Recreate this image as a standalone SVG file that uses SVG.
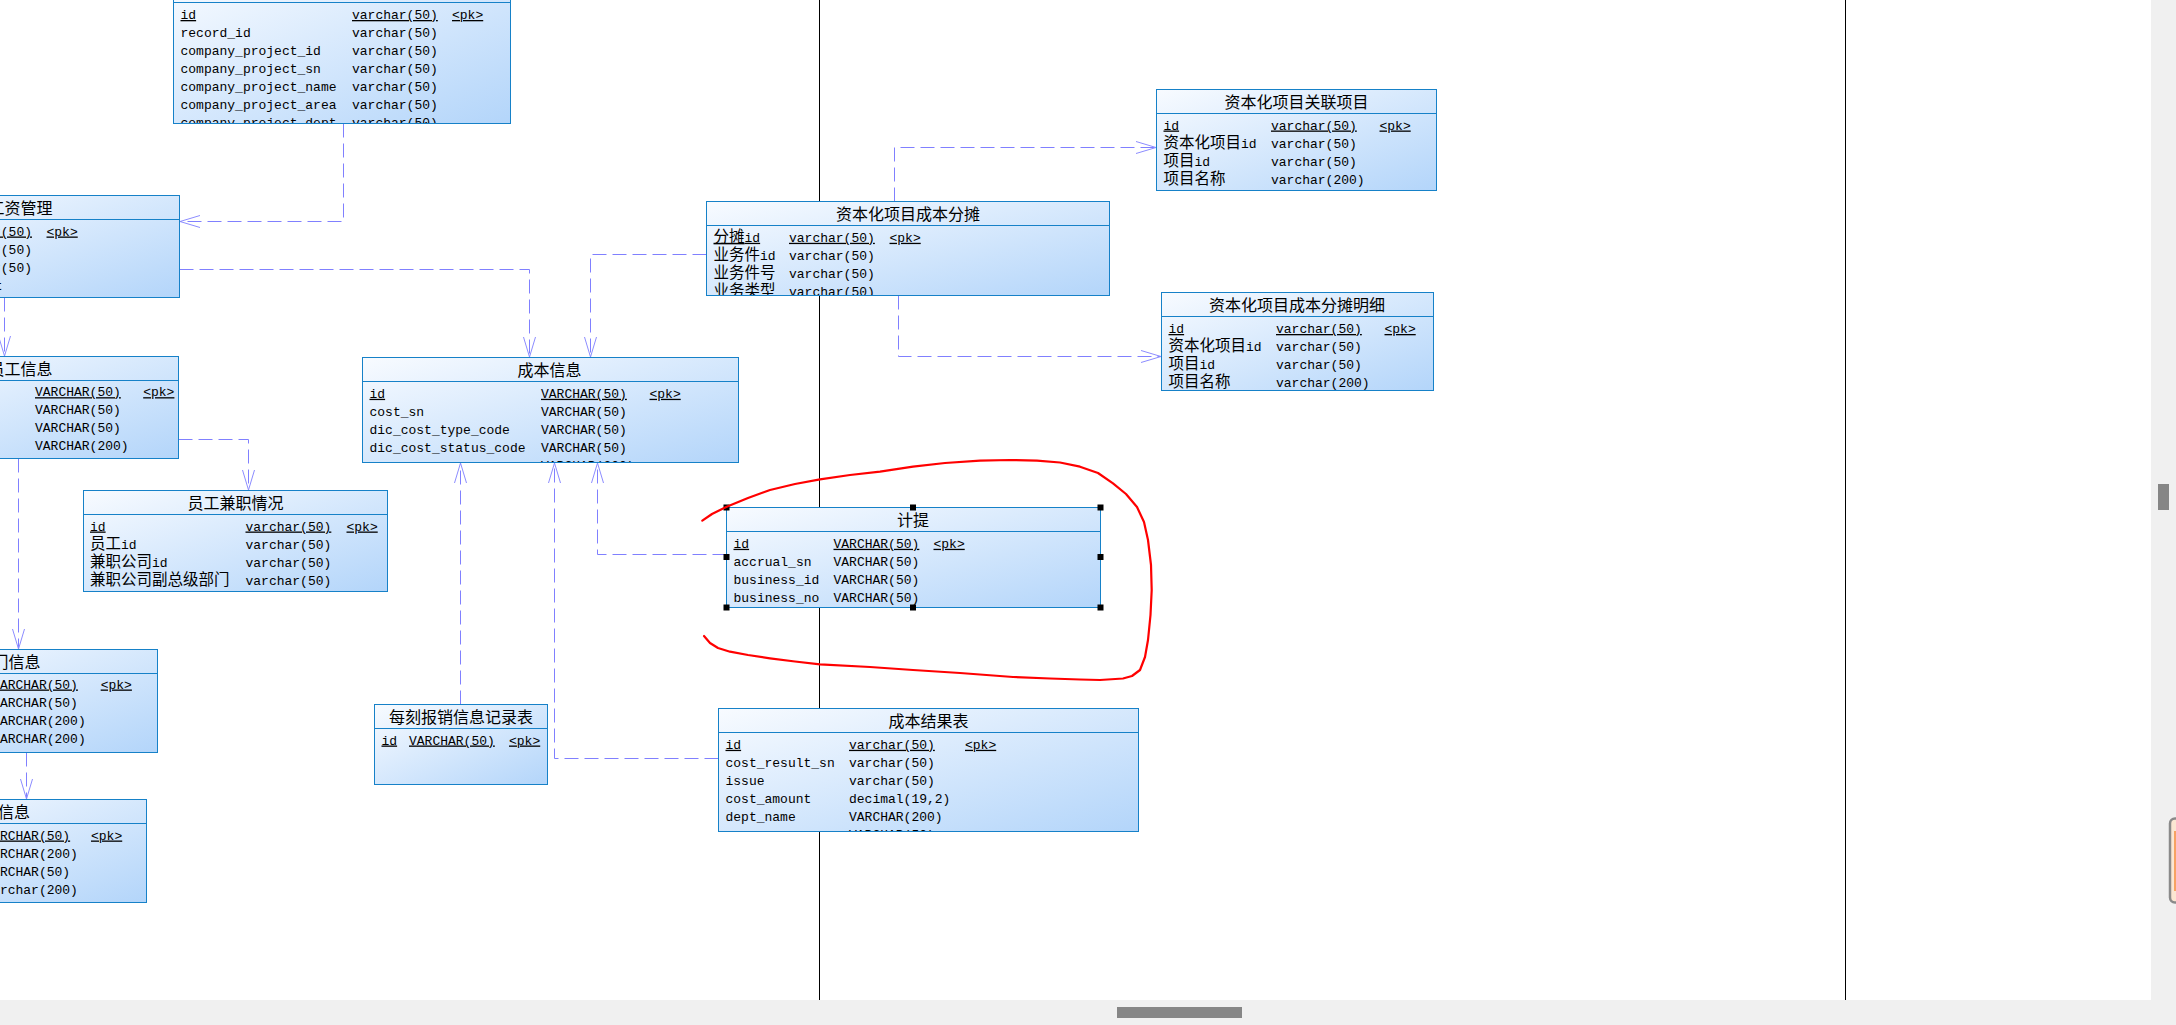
<svg xmlns="http://www.w3.org/2000/svg" width="2176" height="1025" viewBox="0 0 2176 1025">
<style>
.box{fill:url(#gf)}
.bd{fill:none;stroke:#1681c8;stroke-width:1}
.hd{stroke:#1681c8;stroke-width:1}
.tt{font-family:"Noto Sans CJK SC","Noto Sans",sans-serif;font-size:16px;text-anchor:middle;fill:#000}
.r{font-family:"Liberation Mono","Noto Sans CJK SC",monospace;font-size:13px;fill:#000}
.cj{font-family:"Noto Sans CJK SC",sans-serif;font-size:15.5px}
.u{text-decoration:underline}
.te{text-anchor:end}
.conn path{fill:none;stroke:#8080ff;stroke-width:1;stroke-dasharray:14 6;marker-end:url(#arr)}
.pl{stroke:#000;stroke-width:1}
.hdl{fill:#000}
</style>
<defs>
<linearGradient id="gf" x1="0" y1="0" x2="1" y2="1">
<stop offset="0" stop-color="#f8fbff"/>
<stop offset="1" stop-color="#b3d5fa"/>
</linearGradient>
<marker id="arr" viewBox="0 0 22 14" refX="21" refY="7" markerWidth="22" markerHeight="14" markerUnits="userSpaceOnUse" orient="auto">
<path d="M1,1 L21,7 L1,13" fill="none" stroke="#8c8cff" stroke-width="1"/>
</marker>
</defs>
<rect x="0" y="0" width="2176" height="1025" fill="#ffffff"/>
<g id="page-lines">
<line class="pl" x1="819.5" y1="0" x2="819.5" y2="1000"/>
<line class="pl" x1="1845.5" y1="0" x2="1845.5" y2="1000"/>
</g>
<g id="connectors" class="conn">
<path d="M343.5,123.5 V221.5 H180"/>
<path d="M179.5,269.5 H529.5 V357"/>
<path d="M4.5,297.5 V356"/>
<path d="M178.5,439.5 H248.5 V490"/>
<path d="M18.5,458.5 V649"/>
<path d="M26.5,752.5 V799"/>
<path d="M706.5,254.5 H590.5 V357"/>
<path d="M894.5,201.5 V147.5 H1156"/>
<path d="M898.5,295.5 V356.5 H1161"/>
<path d="M460.5,704.5 V463"/>
<path d="M718.5,758.5 H554.5 V463"/>
<path d="M726.5,554.5 H597.5 V463"/>
</g>

<g id="t-project" transform="translate(173.5,-21.5)">
<rect class="box" width="337" height="145"/>
<line class="hd" x1="0" y1="24" x2="337" y2="24"/>
<svg width="337" height="145">
<text class="r u" x="7" y="40.5">id</text><text class="r u" x="178.5" y="40.5">varchar(50)</text><text class="r u" x="278.5" y="40.5">&lt;pk&gt;</text>
<text class="r" x="7" y="58.5">record_id</text><text class="r" x="178.5" y="58.5">varchar(50)</text>
<text class="r" x="7" y="76.5">company_project_id</text><text class="r" x="178.5" y="76.5">varchar(50)</text>
<text class="r" x="7" y="94.5">company_project_sn</text><text class="r" x="178.5" y="94.5">varchar(50)</text>
<text class="r" x="7" y="112.5">company_project_name</text><text class="r" x="178.5" y="112.5">varchar(50)</text>
<text class="r" x="7" y="130.5">company_project_area</text><text class="r" x="178.5" y="130.5">varchar(50)</text>
<text class="r" x="7" y="148.5">company_project_dept</text><text class="r" x="178.5" y="148.5">varchar(50)</text>
</svg>
<rect class="bd" width="337" height="145"/>
</g>

<g id="t-salary" transform="translate(-121.5,195.5)">
<rect class="box" width="301" height="102"/>
<line class="hd" x1="0" y1="24" x2="301" y2="24"/>
<text class="tt te" x="174" y="18">工资管理</text>
<svg width="301" height="102">
<text class="r u te" x="153.5" y="40">varchar(50)</text><text class="r u" x="168" y="40">&lt;pk&gt;</text>
<text class="r te" x="153.5" y="58">varchar(50)</text>
<text class="r te" x="153.5" y="76">varchar(50)</text>
<text class="r te" x="124" y="94">int</text>
<text class="r te" x="153.5" y="112">varchar(50)</text>
</svg>
<rect class="bd" width="301" height="102"/>
</g>

<g id="t-employee" transform="translate(-121.5,356.5)">
<rect class="box" width="300" height="102"/>
<line class="hd" x1="0" y1="24" x2="300" y2="24"/>
<text class="tt te" x="174" y="18">员工信息</text>
<svg width="300" height="102">
<text class="r u" x="156.5" y="39.7">VARCHAR(50)</text><text class="r u" x="264.7" y="39.7">&lt;pk&gt;</text>
<text class="r" x="156.5" y="57.7">VARCHAR(50)</text>
<text class="r" x="156.5" y="75.7">VARCHAR(50)</text>
<text class="r" x="156.5" y="93.7">VARCHAR(200)</text>
<text class="r" x="156.5" y="111.7">VARCHAR(50)</text>
</svg>
<rect class="bd" width="300" height="102"/>
</g>

<g id="t-parttime" transform="translate(83.5,490.5)">
<rect class="box" width="304" height="101"/>
<line class="hd" x1="0" y1="24" x2="304" y2="24"/>
<text class="tt" x="152" y="18">员工兼职情况</text>
<svg width="304" height="101">
<text class="r u" x="6.5" y="40">id</text><text class="r u" x="162" y="40">varchar(50)</text><text class="r u" x="263" y="40">&lt;pk&gt;</text>
<text class="r" x="6.5" y="58"><tspan class="cj">员工</tspan>id</text><text class="r" x="162" y="58">varchar(50)</text>
<text class="r" x="6.5" y="76"><tspan class="cj">兼职公司</tspan>id</text><text class="r" x="162" y="76">varchar(50)</text>
<text class="r" x="6.5" y="94"><tspan class="cj">兼职公司副总级部门</tspan></text><text class="r" x="162" y="94">varchar(50)</text>
</svg>
<rect class="bd" width="304" height="101"/>
</g>

<g id="t-dept" transform="translate(-121.5,649.5)">
<rect class="box" width="279" height="103"/>
<line class="hd" x1="0" y1="24" x2="279" y2="24"/>
<text class="tt te" x="162" y="18">门信息</text>
<svg width="279" height="103">
<text class="r u" x="113.6" y="39">VARCHAR(50)</text><text class="r u" x="222.2" y="39">&lt;pk&gt;</text>
<text class="r" x="113.6" y="57">VARCHAR(50)</text>
<text class="r" x="113.6" y="75">VARCHAR(200)</text>
<text class="r" x="113.6" y="93">VARCHAR(200)</text>
<text class="r" x="113.6" y="111">VARCHAR(200)</text>
</svg>
<rect class="bd" width="279" height="103"/>
</g>

<g id="t-info" transform="translate(-121.5,799.5)">
<rect class="box" width="268" height="103"/>
<line class="hd" x1="0" y1="24" x2="268" y2="24"/>
<text class="tt te" x="151.4" y="18">信息</text>
<svg width="268" height="103">
<text class="r u" x="105.8" y="40">VARCHAR(50)</text><text class="r u" x="212.5" y="40">&lt;pk&gt;</text>
<text class="r" x="105.8" y="58">VARCHAR(200)</text>
<text class="r" x="105.8" y="76">VARCHAR(50)</text>
<text class="r" x="105.8" y="94">varchar(200)</text>
<text class="r" x="105.8" y="112">VARCHAR(50)</text>
</svg>
<rect class="bd" width="268" height="103"/>
</g>

<g id="t-cost" transform="translate(362.5,357.5)">
<rect class="box" width="376" height="105"/>
<line class="hd" x1="0" y1="24" x2="376" y2="24"/>
<text class="tt" x="187" y="18">成本信息</text>
<svg width="376" height="105">
<text class="r u" x="7" y="40.3">id</text><text class="r u" x="178.5" y="40.3">VARCHAR(50)</text><text class="r u" x="287" y="40.3">&lt;pk&gt;</text>
<text class="r" x="7" y="58.3">cost_sn</text><text class="r" x="178.5" y="58.3">VARCHAR(50)</text>
<text class="r" x="7" y="76.3">dic_cost_type_code</text><text class="r" x="178.5" y="76.3">VARCHAR(50)</text>
<text class="r" x="7" y="94.3">dic_cost_status_code</text><text class="r" x="178.5" y="94.3">VARCHAR(50)</text>
<text class="r" x="178.5" y="112.3">VARCHAR(200)</text>
</svg>
<rect class="bd" width="376" height="105"/>
</g>

<g id="t-alloc" transform="translate(706.5,201.5)">
<rect class="box" width="403" height="94"/>
<line class="hd" x1="0" y1="24" x2="403" y2="24"/>
<text class="tt" x="201.5" y="18">资本化项目成本分摊</text>
<svg width="403" height="94">
<text class="r u" x="7" y="40.3"><tspan class="cj">分摊</tspan>id</text><text class="r u" x="82.5" y="40.3">varchar(50)</text><text class="r u" x="183" y="40.3">&lt;pk&gt;</text>
<text class="r" x="7" y="58.3"><tspan class="cj">业务件</tspan>id</text><text class="r" x="82.5" y="58.3">varchar(50)</text>
<text class="r" x="7" y="76.3"><tspan class="cj">业务件号</tspan></text><text class="r" x="82.5" y="76.3">varchar(50)</text>
<text class="r" x="7" y="94.3"><tspan class="cj">业务类型</tspan></text><text class="r" x="82.5" y="94.3">varchar(50)</text>
</svg>
<rect class="bd" width="403" height="94"/>
</g>

<g id="t-link" transform="translate(1156.5,89.5)">
<rect class="box" width="280" height="101"/>
<line class="hd" x1="0" y1="24" x2="280" y2="24"/>
<text class="tt" x="140" y="18">资本化项目关联项目</text>
<svg width="280" height="101">
<text class="r u" x="7" y="40">id</text><text class="r u" x="114.5" y="40">varchar(50)</text><text class="r u" x="223" y="40">&lt;pk&gt;</text>
<text class="r" x="7" y="58"><tspan class="cj">资本化项目</tspan>id</text><text class="r" x="114.5" y="58">varchar(50)</text>
<text class="r" x="7" y="76"><tspan class="cj">项目</tspan>id</text><text class="r" x="114.5" y="76">varchar(50)</text>
<text class="r" x="7" y="94"><tspan class="cj">项目名称</tspan></text><text class="r" x="114.5" y="94">varchar(200)</text>
</svg>
<rect class="bd" width="280" height="101"/>
</g>

<g id="t-alloc-detail" transform="translate(1161.5,292.5)">
<rect class="box" width="272" height="98"/>
<line class="hd" x1="0" y1="24" x2="272" y2="24"/>
<text class="tt" x="135.5" y="18">资本化项目成本分摊明细</text>
<svg width="272" height="98">
<text class="r u" x="7" y="40.5">id</text><text class="r u" x="114.5" y="40.5">varchar(50)</text><text class="r u" x="223" y="40.5">&lt;pk&gt;</text>
<text class="r" x="7" y="58.5"><tspan class="cj">资本化项目</tspan>id</text><text class="r" x="114.5" y="58.5">varchar(50)</text>
<text class="r" x="7" y="76.5"><tspan class="cj">项目</tspan>id</text><text class="r" x="114.5" y="76.5">varchar(50)</text>
<text class="r" x="7" y="94.5"><tspan class="cj">项目名称</tspan></text><text class="r" x="114.5" y="94.5">varchar(200)</text>
</svg>
<rect class="bd" width="272" height="98"/>
</g>

<g id="t-accrual" transform="translate(726.5,507.5)">
<rect class="box" width="374" height="100"/>
<line class="hd" x1="0" y1="24" x2="374" y2="24"/>
<text class="tt" x="186.5" y="18">计提</text>
<svg width="374" height="100">
<text class="r u" x="7" y="40.3">id</text><text class="r u" x="107" y="40.3">VARCHAR(50)</text><text class="r u" x="207" y="40.3">&lt;pk&gt;</text>
<text class="r" x="7" y="58.3">accrual_sn</text><text class="r" x="107" y="58.3">VARCHAR(50)</text>
<text class="r" x="7" y="76.3">business_id</text><text class="r" x="107" y="76.3">VARCHAR(50)</text>
<text class="r" x="7" y="94.3">business_no</text><text class="r" x="107" y="94.3">VARCHAR(50)</text>
</svg>
<rect class="bd" width="374" height="100"/>
</g>

<g id="t-expense" transform="translate(374.5,704.5)">
<rect class="box" width="173" height="80"/>
<line class="hd" x1="0" y1="24" x2="173" y2="24"/>
<text class="tt" x="86.5" y="18">每刻报销信息记录表</text>
<text class="r u" x="7" y="40">id</text><text class="r u" x="34.5" y="40">VARCHAR(50)</text><text class="r u" x="134.5" y="40">&lt;pk&gt;</text>
<rect class="bd" width="173" height="80"/>
</g>

<g id="t-result" transform="translate(718.5,708.5)">
<rect class="box" width="420" height="123"/>
<line class="hd" x1="0" y1="24" x2="420" y2="24"/>
<text class="tt" x="210" y="18">成本结果表</text>
<svg width="420" height="123">
<text class="r u" x="7" y="40.3">id</text><text class="r u" x="130.5" y="40.3">varchar(50)</text><text class="r u" x="246.5" y="40.3">&lt;pk&gt;</text>
<text class="r" x="7" y="58.3">cost_result_sn</text><text class="r" x="130.5" y="58.3">varchar(50)</text>
<text class="r" x="7" y="76.3">issue</text><text class="r" x="130.5" y="76.3">varchar(50)</text>
<text class="r" x="7" y="94.3">cost_amount</text><text class="r" x="130.5" y="94.3">decimal(19,2)</text>
<text class="r" x="7" y="112.3">dept_name</text><text class="r" x="130.5" y="112.3">VARCHAR(200)</text>
<text class="r" x="130.5" y="130.3">VARCHAR(50)</text>
</svg>
<rect class="bd" width="420" height="123"/>
</g>

<g id="selection-handles">
<rect class="hdl" x="723.5" y="504.5" width="6" height="6"/>
<rect class="hdl" x="910" y="504.5" width="6" height="6"/>
<rect class="hdl" x="1097.5" y="504.5" width="6" height="6"/>
<rect class="hdl" x="723.5" y="554" width="6" height="6"/>
<rect class="hdl" x="1097.5" y="554" width="6" height="6"/>
<rect class="hdl" x="723.5" y="604.5" width="6" height="6"/>
<rect class="hdl" x="910" y="604.5" width="6" height="6"/>
<rect class="hdl" x="1097.5" y="604.5" width="6" height="6"/>
</g>

<polyline id="red-mark" fill="none" stroke="#ff0000" stroke-width="2.2" stroke-linejoin="round" stroke-linecap="round" points="702.3,520.7 712,514 726.7,506.7 748,498 770,490 795,484 820,479.3 850,475 880,471.7 913,466.7 945,463 980,460.7 1010,460 1037,460.7 1060,462.5 1080,466.7 1098,473 1113,483.3 1126,494 1137,507 1144,522 1148,540 1151,565 1151.7,590 1150.5,615 1148,640 1145,657 1140,670 1132,676 1123,678.5 1100,680 1080,679.5 1050,678.5 1013,677 960,673 913,670 870,667 820,664.3 795,661.5 770,658.3 748,655 730,651.7 718,648 710,643 704,636"/>

<g id="scrollbars">
<rect x="2151" y="0" width="25" height="1025" fill="#f0f0f0"/>
<rect x="0" y="1000" width="2176" height="25" fill="#f0f0f0"/>
<rect x="2158" y="484" width="11" height="26" fill="#868686"/>
<rect x="1117" y="1007" width="125" height="11" fill="#868686"/>
<rect x="2170" y="818.5" width="20" height="84" rx="5" fill="#fbe6d2" stroke="#8a8a8a" stroke-width="2.5"/>
<rect x="2174" y="831" width="10" height="60" fill="#f7a262"/>
</g>
</svg>
